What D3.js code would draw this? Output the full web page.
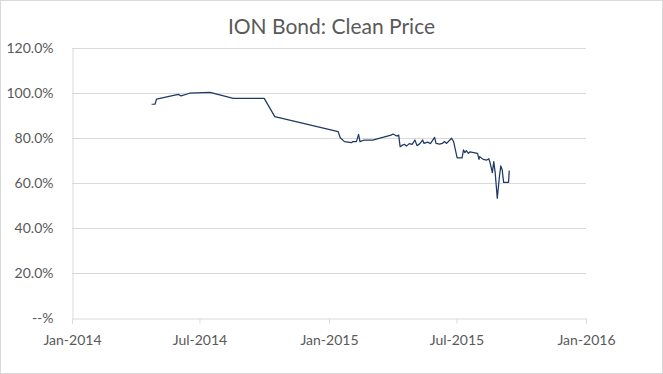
<!DOCTYPE html>
<html>
<head>
<meta charset="utf-8">
<script src="https://cdn.jsdelivr.net/npm/d3@7"></script>
<style>
  body { margin: 0; background: #fff; }
  svg { display: block; font-family: Lato, "Open Sans", sans-serif; }
</style>
</head>
<body>
<div id="chart"></div>
<script>
const dates = [
  "2014-04-24", "2014-04-29", "2014-05-01", "2014-06-01", "2014-06-05", "2014-06-17",
  "2014-07-16", "2014-08-18", "2014-10-01", "2014-10-16", "2015-01-14", "2015-01-17",
  "2015-01-23", "2015-02-02", "2015-02-04", "2015-02-09", "2015-02-12", "2015-02-14",
  "2015-02-20", "2015-03-04", "2015-03-30", "2015-04-02", "2015-04-07", "2015-04-10",
  "2015-04-12", "2015-04-14", "2015-04-18", "2015-04-21", "2015-04-25", "2015-04-29",
  "2015-05-03", "2015-05-06", "2015-05-10", "2015-05-14", "2015-05-16", "2015-05-21",
  "2015-05-25", "2015-05-31", "2015-06-02", "2015-06-07", "2015-06-11", "2015-06-14",
  "2015-06-17", "2015-06-24", "2015-06-27", "2015-07-02", "2015-07-09", "2015-07-11",
  "2015-07-13", "2015-07-15", "2015-07-18", "2015-07-20", "2015-07-31", "2015-08-02",
  "2015-08-03", "2015-08-08", "2015-08-13", "2015-08-16", "2015-08-18", "2015-08-21",
  "2015-08-23", "2015-08-25", "2015-08-28", "2015-08-31", "2015-09-02", "2015-09-04",
  "2015-09-06", "2015-09-13", "2015-09-14"
];
const prices = [
  95.0, 95.1, 97.3, 99.4, 98.7, 99.9,
  100.3, 97.6, 97.6, 89.5, 82.8, 80.1,
  78.4, 77.9, 78.4, 78.4, 81.6, 78.4,
  79.1, 79.1, 81.3, 81.8, 80.9, 81.3,
  76.1, 76.6, 77.2, 76.4, 77.5, 77.2,
  79.1, 76.6, 77.5, 79.1, 77.6, 78.2,
  77.5, 80.3, 77.6, 77.3, 77.6, 78.4,
  77.6, 79.9, 78.4, 71.2, 71.2, 74.7,
  73.5, 74.4, 73.2, 73.8, 73.2, 70.5,
  71.7, 70.5, 70.2, 70.8, 68.7, 64.6,
  69.5, 64.6, 53.2, 62.8, 67.6, 65.8,
  60.3, 60.3, 65.5
];
const yTicks = [0, 20, 40, 60, 80, 100, 120];
const xTicks = ["2014-01-01", "2014-07-01", "2015-01-01", "2015-07-01", "2016-01-01"];
const title = "ION Bond: Clean Price";

const width = 663, height = 374;
const margin = {top: 48, right: 77, bottom: 56, left: 72};
const parse = d3.timeParse("%Y-%m-%d");
const data = dates.map((d, i) => ({date: parse(d), value: prices[i]}));

const svg = d3.select("#chart").append("svg")
  .attr("width", width)
  .attr("height", height);

svg.append("rect")
  .attr("x", 0.5).attr("y", 0.5)
  .attr("width", width - 1).attr("height", height - 1)
  .attr("fill", "#fff")
  .attr("stroke", "#d9d9d9");

const x = d3.scaleTime()
  .domain([parse(xTicks[0]), parse(xTicks[xTicks.length - 1])])
  .range([margin.left, width - margin.right]);
const y = d3.scaleLinear()
  .domain([0, 120])
  .range([height - margin.bottom, margin.top]);

// gridlines
svg.append("g")
  .selectAll("line")
  .data(yTicks.slice(1))
  .enter().append("line")
  .attr("x1", x.range()[0]).attr("x2", x.range()[1])
  .attr("y1", d => Math.round(y(d)) + 0.5)
  .attr("y2", d => Math.round(y(d)) + 0.5)
  .attr("stroke", "#d9d9d9");

const xAxis = svg.append("g")
  .attr("transform", `translate(0,${Math.round(y(0)) + 0.5})`)
  .call(d3.axisBottom(x)
    .tickValues(xTicks.map(parse))
    .tickFormat(d3.timeFormat("%b-%Y"))
    .tickSizeOuter(0)
    .tickSize(5)
    .tickPadding(12));

const yAxis = svg.append("g")
  .attr("transform", `translate(${Math.round(x.range()[0]) + 0.5},0)`)
  .call(d3.axisLeft(y)
    .tickValues(yTicks)
    .tickFormat(d => d === 0 ? "--%" : d.toFixed(1) + "%")
    .tickSize(0)
    .tickPadding(19)
    .tickSizeOuter(0));

for (const g of [xAxis, yAxis]) {
  g.select(".domain").attr("stroke", "#d9d9d9");
  g.selectAll(".tick line").attr("stroke", "#d9d9d9");
  g.selectAll("text")
    .attr("fill", "#595959")
    .style("font-size", "14px")
    .style("font-family", "Lato, 'Open Sans', sans-serif");
}

const line = d3.line()
  .x(d => x(d.date))
  .y(d => y(d.value));

svg.append("path")
  .datum(data)
  .attr("d", line)
  .attr("fill", "none")
  .attr("stroke", "#1f3864")
  .attr("stroke-width", 1.25)
  .attr("stroke-linejoin", "round");

svg.append("text")
  .attr("x", width / 2)
  .attr("y", 34)
  .attr("text-anchor", "middle")
  .attr("fill", "#595959")
  .style("font-size", "21px")
  .text(title);
</script>
</body>
</html>
